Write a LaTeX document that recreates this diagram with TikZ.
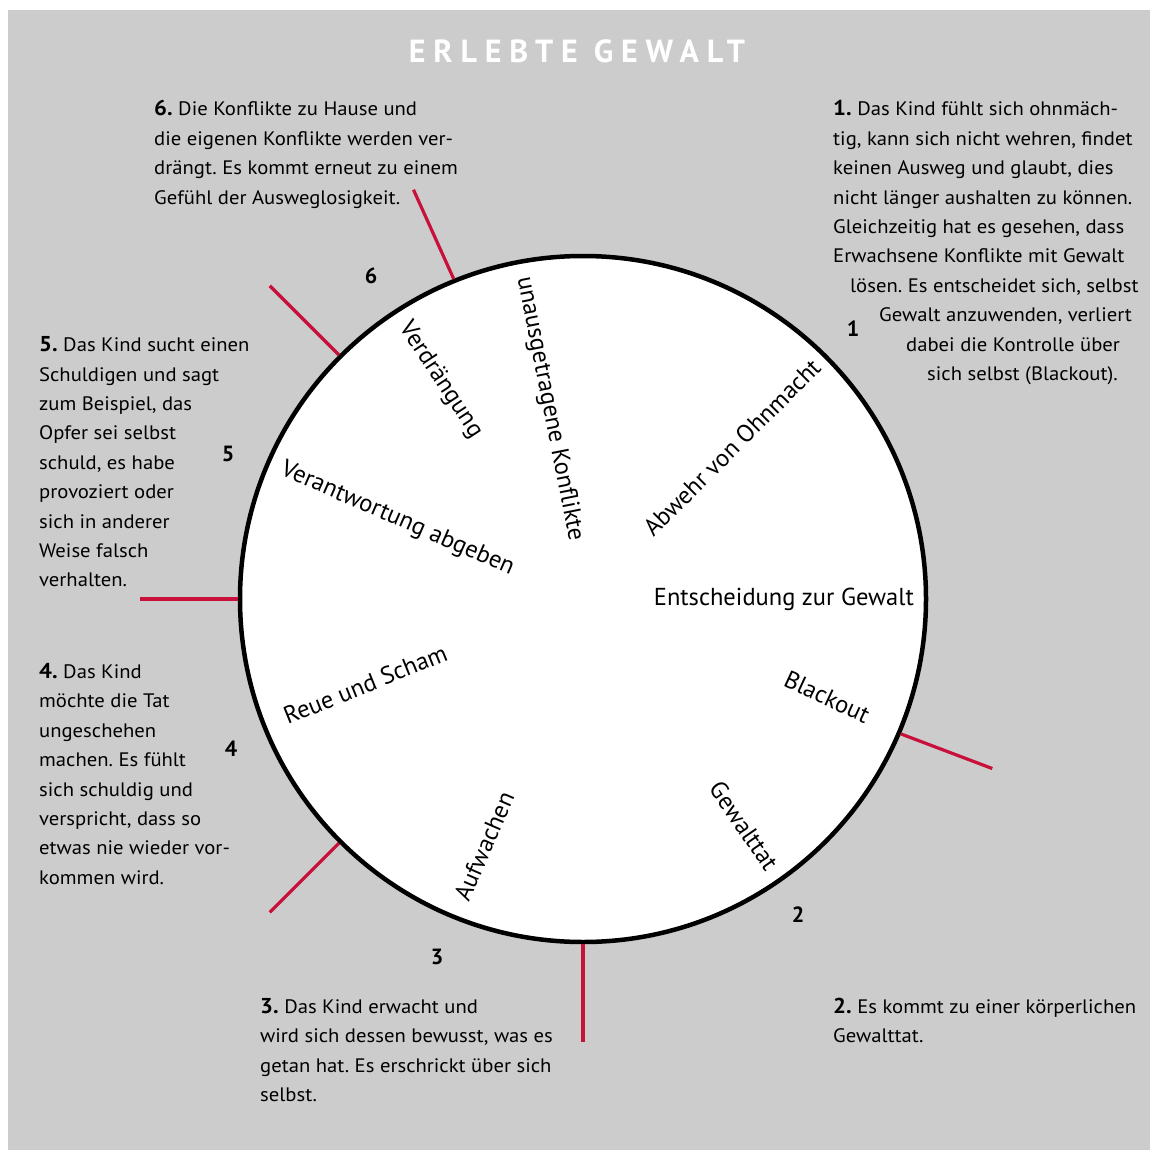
\documentclass[tikz,border=0pt]{standalone}
\usepackage{fontspec}
\setmainfont{PT Sans}
\newfontfamily\sidefam{PT Sans}[FakeStretch=1.06]
\usetikzlibrary{calc}
\definecolor{bggrey}{RGB}{204,204,204}
\definecolor{divred}{RGB}{200,16,58}
\newcommand{\sidefont}{\sidefam\fontsize{19.5}{29.4}\selectfont\frenchspacing}
\newcommand{\leadnum}[1]{{\fontsize{21.5}{29.4}\selectfont\bfseries #1}}
\tikzset{
  sidetext/.style={anchor=base west, inner sep=0pt, font=\sidefont},
  inlabel/.style={inner sep=0pt, font=\fontsize{24.5}{28}\selectfont},
  stagenum/.style={inner sep=0pt, font=\fontsize{22}{24}\selectfont\bfseries},
  divider/.style={draw=divred, line width=3.2pt},
  titletext/.style={inner sep=0pt, text=white, font=\fontsize{32}{36}\selectfont\bfseries\addfontfeature{LetterSpace=24.5}}
}
\begin{document}
\begin{tikzpicture}[x=1pt,y=1pt]
\useasboundingbox (0,0) rectangle (1150,-1150);
\fill[white] (0,0) rectangle (1150,-1150);
\fill[bggrey] (8,-10) rectangle (1150,-1150);

\coordinate (O) at (583,-599);
\node[circle, draw=black, line width=4.5pt, fill=white, minimum size=686pt, inner sep=0pt] (wheel) at (O) {};

% dividers
\foreach \a/\n in {112.5/d6, 135/d5, 180/d4, 225/d3, 270/d2, 337.5/d1}{
  \coordinate (\n) at ($(O)+(\a:443)$);
  \draw[divider] (wheel.\a) -- (\n);
}

% title
\node[titletext] (title) at (577,-51.5) {ERLEBTE GEWALT};

% stage numbers
\node[stagenum] (n1) at (853,-329) {1};
\node[stagenum] (n2) at (798,-915) {2};
\node[stagenum] (n3) at (437,-957) {3};
\node[stagenum] (n4) at (231,-749) {4};
\node[stagenum] (n5) at (228,-454) {5};
\node[stagenum] (n6) at (371,-276) {6};

% inner labels (outward reading: base east; inward reading: base west)
\node[inlabel, anchor=base east, rotate=0] (l1) at ($(O)+(0:331)+(-90:6)$) {Entscheidung zur Gewalt};
\node[inlabel, anchor=base east, rotate=45] (l2) at ($(O)+(44.7:332)+(-45.3:5)$) {Abwehr von Ohnmacht};
\node[inlabel, anchor=center, rotate=-25] (l3) at (827,-697) {Blackout};
\node[inlabel, anchor=base east, rotate=-55.5] (l4) at ($(O)+(-55.4:329)+(-145.4:5)$) {Gewalttat};
\node[inlabel, anchor=center, rotate=66.5] (l5) at (484,-846) {Aufwachen};
\node[inlabel, anchor=base west, rotate=22] (l6) at ($(O)+(202:321)+(292:6)$) {Reue und Scham};
\node[inlabel, anchor=base west, rotate=-23.5] (l7) at ($(O)+(156.5:328)+(246.5:7)$) {Verantwortung abgeben};
\node[inlabel, anchor=base west, rotate=-56.7] (l8) at ($(O)+(123.3:328)+(213.3:5)$) {Verdrängung};
\node[inlabel, anchor=base west, rotate=-78.8] (l9) at ($(O)+(101.2:327)+(191.2:2)$) {unausgetragene Konflikte};

% side texts
\node[sidetext] (t1) at (833,-116) {\parbox[t]{340pt}{\raggedright
\leadnum{1.} Das Kind fühlt sich ohnmäch-\\
tig, kann sich nicht wehren, findet\\
keinen Ausweg und glaubt, dies\\
nicht länger aushalten zu können.\\
Gleichzeitig hat es gesehen, dass\\
Erwachsene Konflikte mit Gewalt\\
\hspace*{17pt}lösen. Es entscheidet sich, selbst\\
\hspace*{46pt}Gewalt anzuwenden, verliert\\
\hspace*{73pt}dabei die Kontrolle über\\
\hspace*{94pt}sich selbst (Blackout).}};

\node[sidetext] (t2) at (833,-1013.5) {\parbox[t]{340pt}{\raggedright
\leadnum{2.} Es kommt zu einer körperlichen\\
Gewalttat.}};

\node[sidetext] (t3) at (260,-1013.5) {\parbox[t]{340pt}{\raggedright
\leadnum{3.} Das Kind erwacht und\\
wird sich dessen bewusst, was es\\
getan hat. Es erschrickt über sich\\
selbst.}};

\node[sidetext] (t4) at (39,-678.5) {\parbox[t]{220pt}{\raggedright
\leadnum{4.} Das Kind\\
möchte die Tat\\
ungeschehen\\
machen. Es fühlt\\
sich schuldig und\\
verspricht, dass so\\
etwas nie wieder vor-\\
kommen wird.}};

\node[sidetext] (t5) at (39,-351.7) {\parbox[t]{220pt}{\raggedright
\leadnum{5.} Das Kind sucht einen\\
Schuldigen und sagt\\
zum Beispiel, das\\
Opfer sei selbst\\
schuld, es habe\\
provoziert oder\\
sich in anderer\\
Weise falsch\\
verhalten.}};

\node[sidetext] (t6) at (154,-116) {\parbox[t]{340pt}{\raggedright
\leadnum{6.} Die Konflikte zu Hause und\\
die eigenen Konflikte werden ver-\\
drängt. Es kommt erneut zu einem\\
Gefühl der Ausweglosigkeit.}};
\end{tikzpicture}
\end{document}
